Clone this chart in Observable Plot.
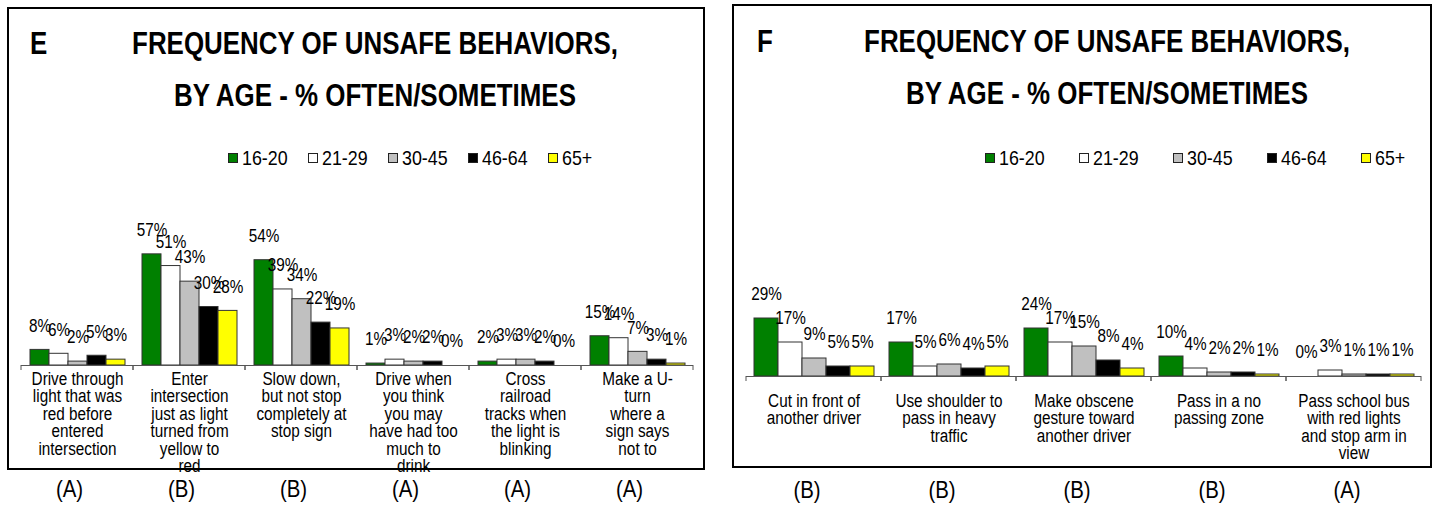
<!DOCTYPE html>
<html><head><meta charset="utf-8">
<script src="https://cdn.jsdelivr.net/npm/d3@7"></script>
<script src="https://cdn.jsdelivr.net/npm/@observablehq/plot@0.6"></script>
<style>
body{margin:0;background:#fff;}
#root{position:relative;width:1436px;height:508px;overflow:hidden;font-family:"Liberation Sans",Arial,sans-serif;color:#000;}
.abs{position:absolute;}
.border{position:absolute;border:2px solid #000;box-sizing:border-box;pointer-events:none;z-index:5;}
.title{position:absolute;font-weight:bold;font-size:30.5px;line-height:52px;white-space:nowrap;text-align:center;transform:scaleX(0.85);transform-origin:50% 50%;}
.letter{position:absolute;font-weight:bold;font-size:30.5px;line-height:52px;transform:scaleX(0.85);transform-origin:0 50%;}
.legend{position:absolute;display:flex;font-size:21px;line-height:20px;}
.legend .item{display:flex;align-items:center;}
.legend .sw{width:8px;height:8px;border:1px solid #222;margin-right:4px;flex:none;}
.legend .lt{display:inline-block;transform:scaleX(0.85);transform-origin:0 50%;white-space:nowrap;}
</style></head>
<body><div id="root"></div>
<script>
// ---- data ----
const series = ["16-20", "21-29", "30-45", "46-64", "65+"];
const seriesColors = ["#008000", "#ffffff", "#c0c0c0", "#000000", "#ffff00"];
const titleLines = ["FREQUENCY OF UNSAFE BEHAVIORS,", "BY AGE - % OFTEN/SOMETIMES"];

const catsE = [
  "Drive through\nlight that was\nred before\nentered\nintersection",
  "Enter\nintersection\njust as light\nturned from\nyellow to\nred",
  "Slow down,\nbut not stop\ncompletely at\nstop sign",
  "Drive when\nyou think\nyou may\nhave had too\nmuch to\ndrink",
  "Cross\nrailroad\ntracks when\nthe light is\nblinking",
  "Make a U-\nturn\nwhere a\nsign says\nnot to"
];
const gradesE = ["(A)", "(B)", "(B)", "(A)", "(A)", "(A)"];
const e1620 = [8, 57, 54, 1, 2, 15];
const e2129 = [6, 51, 39, 3, 3, 14];
const e3045 = [2, 43, 34, 2, 3, 7];
const e4664 = [5, 30, 22, 2, 2, 3];
const e65   = [3, 28, 19, 0, 0, 1];

const catsF = [
  "Cut in front of\nanother driver",
  "Use shoulder to\npass in heavy\ntraffic",
  "Make obscene\ngesture toward\nanother driver",
  "Pass in a no\npassing zone",
  "Pass school bus\nwith red lights\nand stop arm in\nview"
];
const gradesF = ["(B)", "(B)", "(B)", "(B)", "(A)"];
const f1620 = [29, 17, 24, 10, 0];
const f2129 = [17, 5, 17, 4, 3];
const f3045 = [9, 6, 15, 2, 1];
const f4664 = [5, 4, 8, 2, 1];
const f65   = [5, 5, 4, 1, 1];

// ---- helpers ----
const FONT = '"Liberation Sans",Arial,sans-serif';
const SQUEEZE = 0.85;
function rows(cats, lists) {
  const out = [];
  cats.forEach((c, i) => lists.forEach((l, j) => out.push({cat: c, series: series[j], value: l[i]})));
  return out;
}
function catTicks(index, scales, values, dims) {
  const y0 = dims.height - dims.marginBottom;
  const g = d3.create("svg:g");
  for (const x of [dims.marginLeft, dims.width - dims.marginRight]) {
    g.append("line").attr("x1", x).attr("x2", x).attr("y1", y0).attr("y2", y0 + 5)
      .attr("stroke", "#555").attr("stroke-width", 1);
  }
  return g.node();
}
function panelPlot(cfg) {
  const data = rows(cfg.cats, cfg.lists);
  const catData = cfg.cats.map((c, i) => ({cat: c, grade: cfg.grades[i]}));
  return Plot.plot({
    width: cfg.width, height: 508,
    marginLeft: cfg.ml, marginRight: cfg.mr, marginTop: cfg.mt, marginBottom: cfg.mb,
    style: {fontFamily: FONT, color: "#000", background: "transparent", overflow: "visible"},
    fx: {domain: cfg.cats, padding: 0, axis: null},
    x: {domain: series, paddingInner: 0, paddingOuter: cfg.pad, axis: null},
    y: {domain: [0, 100], axis: null},
    color: {domain: series, range: seriesColors},
    marks: [
      Plot.barY(data, {fx: "cat", x: "series", y: "value", fill: "series", stroke: "#333", strokeWidth: 1}),
      Plot.ruleY([0], {stroke: "#555", strokeWidth: 1}),
      catTicks,
      Plot.text(data, {fx: "cat", x: "series", y: "value", text: d => d.value + "%", fontSize: 18, lineAnchor: "middle", dy: -24, fill: "#000"}),
      Plot.text(catData, {fx: "cat", text: "cat", frameAnchor: "bottom", lineAnchor: "top", dy: cfg.labelDy, fontSize: 18, lineHeight: 0.97, fill: "#000"}),
      Plot.text(catData, {fx: "cat", text: "grade", frameAnchor: "bottom", lineAnchor: "middle", dy: cfg.gradeDy, dx: cfg.gradeDx, fontSize: 24, fill: "#000"})
    ]
  });
}
function squeeze(svg, k) {
  svg.querySelectorAll("text").forEach(t => {
    const spans = t.querySelectorAll("tspan");
    const targets = spans.length ? Array.from(spans) : [t];
    targets.forEach(el => {
      const L = el.getComputedTextLength();
      if (L > 0) { el.setAttribute("textLength", (L * k).toFixed(2)); el.setAttribute("lengthAdjust", "spacingAndGlyphs"); }
    });
  });
}
function legendEl(left, top, step) {
  const lg = document.createElement("div");
  lg.className = "legend";
  lg.style.left = left + "px"; lg.style.top = top + "px";
  series.forEach((s, i) => {
    const it = document.createElement("div"); it.className = "item"; it.style.width = step + "px";
    const sw = document.createElement("div"); sw.className = "sw"; sw.style.background = seriesColors[i];
    const tx = document.createElement("span"); tx.className = "lt"; tx.textContent = s;
    it.appendChild(sw); it.appendChild(tx); lg.appendChild(it);
  });
  return lg;
}
function add(el, cls, css, text) {
  const d = document.createElement("div"); d.className = cls;
  Object.assign(d.style, css); if (text != null) d.textContent = text;
  el.appendChild(d); return d;
}

const root = document.getElementById("root");

// Panel E
const pE = add(root, "abs", {left: "0px", top: "0px", width: "720px", height: "508px"});
pE.appendChild(panelPlot({cats: catsE, lists: [e1620, e2129, e3045, e4664, e65], grades: gradesE,
  width: 720, ml: 19, mr: 26, mt: 170, mb: 143, pad: 0.37, labelDy: 7, gradeDy: 124, gradeDx: -8}));
add(pE, "border", {left: "7px", top: "7px", width: "698px", height: "463px"});
add(pE, "letter", {left: "30px", top: "17px"}, "E");
const tE = add(pE, "title", {left: "75px", top: "17px", width: "600px"});
tE.innerHTML = titleLines.join("<br>");
pE.appendChild(legendEl(228, 148, 80));

// Panel F
const pF = add(root, "abs", {left: "720px", top: "0px", width: "716px", height: "508px"});
pF.appendChild(panelPlot({cats: catsF, lists: [f1620, f2129, f3045, f4664, f65], grades: gradesF,
  width: 716, ml: 25, mr: 15, mt: 176, mb: 132, pad: 0.31, labelDy: 18, gradeDy: 114, gradeDx: -7}));
add(pF, "border", {left: "12px", top: "4px", width: "700px", height: "464px"});
add(pF, "letter", {left: "37px", top: "15px"}, "F");
const tF = add(pF, "title", {left: "87px", top: "15px", width: "600px"});
tF.innerHTML = titleLines.join("<br>");
pF.appendChild(legendEl(265, 148, 94));

for (const svg of root.querySelectorAll("svg")) {
  svg.style.position = "absolute"; svg.style.left = "0px"; svg.style.top = "0px";
  squeeze(svg, SQUEEZE);
}
</script>
</body></html>
